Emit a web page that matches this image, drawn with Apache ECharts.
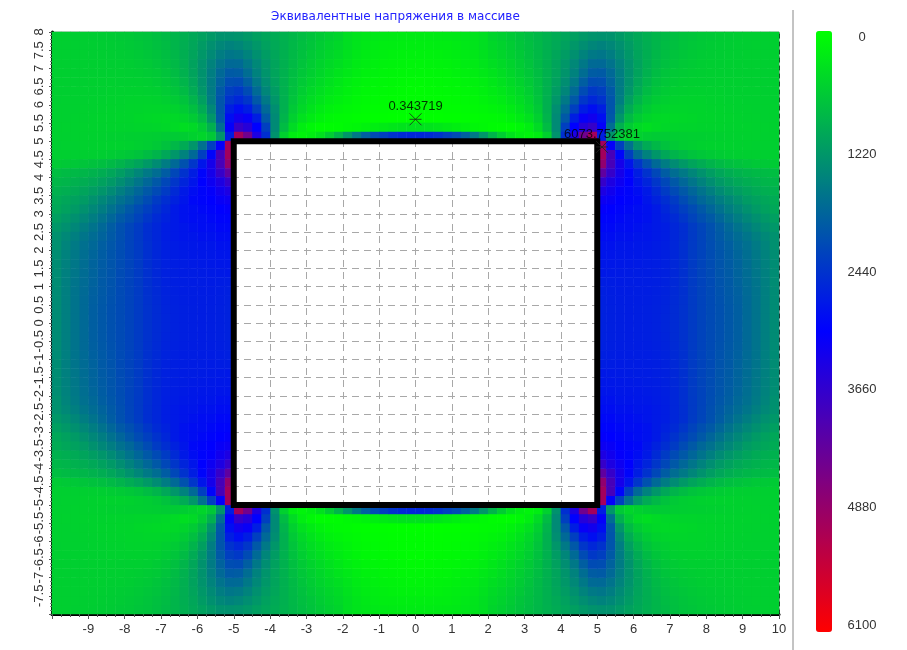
<!DOCTYPE html>
<html><head><meta charset="utf-8">
<style>html,body{margin:0;padding:0;background:#fff}#c{width:907px;height:650px}</style>
<script src="https://cdn.jsdelivr.net/npm/echarts@6/dist/echarts.min.js"></script>
</head><body><div id="c"></div>
<script>
const titleText = 'Эквивалентные напряжения в массиве';
// Rows for y = 7.875 ... 5.125, columns for x = 0.125 ... 9.875, step 0.25.
const bandAbove = [
[240,240,250,260,280,300,330,400,520,580,650,720,790,860,930,1000,1080,1150,1230,1290,1320,1300,1220,1130,1040,960,880,820,770,720,690,660,640,620,610,600,590,590,580,580],
[200,200,210,220,240,270,320,390,480,540,610,690,770,850,940,1030,1130,1240,1350,1450,1490,1440,1330,1200,1070,970,880,800,750,700,670,640,620,610,600,590,590,580,580,580],
[160,160,170,190,210,240,290,360,440,500,570,650,740,840,950,1060,1190,1330,1480,1600,1640,1550,1400,1240,1090,970,860,780,720,680,640,620,610,600,590,590,580,580,580,570],
[120,130,140,150,180,210,250,320,390,460,530,610,700,820,950,1090,1240,1420,1620,1780,1800,1680,1480,1290,1110,960,840,750,690,650,620,600,590,590,580,580,580,570,570,570],
[90,100,110,120,150,170,210,270,340,410,490,570,670,790,930,1090,1280,1500,1750,1950,1970,1800,1540,1300,1100,930,800,710,650,620,600,590,580,580,570,570,570,570,570,570],
[60,70,80,90,110,130,170,220,290,360,440,530,630,760,930,1120,1350,1620,1930,2150,2130,1880,1580,1300,1070,880,750,670,620,590,580,570,570,560,560,560,570,570,570,570],
[40,50,60,70,80,100,130,180,240,300,380,470,590,740,930,1180,1450,1780,2150,2380,2300,1980,1580,1250,1000,810,690,620,580,560,550,550,550,550,560,560,560,560,570,570],
[30,30,40,50,60,70,100,140,190,240,320,410,530,700,950,1250,1600,2000,2400,2580,2450,2050,1550,1150,900,720,620,570,540,530,530,530,540,540,550,550,560,560,560,570],
[20,20,25,30,40,50,70,100,130,170,240,330,470,650,950,1350,1800,2300,2720,2880,2700,2050,1420,1000,770,620,540,510,500,500,510,520,530,530,540,550,550,560,560,560],
[5,5,5,10,15,25,40,55,75,100,160,240,360,560,900,1400,2000,2700,3150,3250,2900,2000,1250,830,620,510,470,460,470,480,490,510,520,530,530,540,550,550,560,560],
[350,340,300,250,200,150,110,80,50,30,40,100,200,430,800,1400,2300,3050,3500,3700,3100,1750,950,620,460,390,440,480,500,510,520,530,530,530,540,540,540,550,550,560],
[2600,2550,2450,2300,2150,1900,1600,1250,900,600,350,200,130,220,550,1300,2500,3400,4400,5000,2700,1250,650,500,550,600,620,620,600,590,580,570,560,560,550,550,550,550,560,560]
];
// Rows for y = 4.875 ... 0.125, columns for x = 5.125 ... 9.875.
const bandRight = [
[5000,3100,2300,1700,1250,1000,850,730,650,600,570,550,540,540,540,550,550,560,560,570],
[5000,3900,3000,2300,1800,1500,1250,1050,900,800,720,670,630,610,590,580,570,570,570,580],
[4800,3900,3300,2800,2400,2080,1800,1570,1380,1220,1090,990,900,830,770,730,690,660,640,620],
[4200,3700,3300,3000,2700,2450,2200,1950,1750,1600,1450,1300,1170,1060,980,920,870,840,810,780],
[3700,3400,3200,3050,2800,2620,2400,2200,2000,1820,1650,1500,1350,1220,1120,1040,980,930,890,860],
[3400,3250,3100,3000,2900,2750,2550,2350,2170,2000,1830,1680,1530,1390,1270,1170,1090,1020,970,930],
[3200,3150,3050,3000,2950,2800,2650,2500,2350,2150,1980,1820,1700,1560,1430,1310,1200,1120,1060,1000],
[3100,3050,3000,2950,2900,2850,2750,2600,2450,2300,2150,2000,1840,1700,1560,1430,1310,1210,1120,1050],
[3000,3000,2950,2900,2900,2850,2750,2650,2550,2400,2250,2100,1980,1830,1690,1560,1440,1330,1230,1150],
[2950,2950,2900,2900,2850,2800,2750,2700,2600,2500,2350,2230,2090,1950,1810,1680,1550,1440,1330,1240],
[2900,2900,2850,2850,2800,2800,2750,2700,2600,2500,2360,2240,2110,1990,1870,1760,1650,1530,1420,1320],
[2850,2850,2800,2800,2780,2760,2730,2690,2590,2490,2360,2250,2130,2020,1920,1810,1710,1590,1470,1330],
[2800,2800,2780,2770,2760,2740,2720,2680,2590,2490,2350,2250,2140,2040,1950,1840,1730,1610,1500,1360],
[2780,2770,2760,2750,2740,2720,2700,2670,2580,2490,2350,2240,2140,2050,1960,1860,1750,1630,1510,1370],
[2760,2750,2740,2730,2720,2710,2690,2670,2580,2480,2350,2240,2150,2050,1970,1870,1760,1640,1520,1380],
[2700,2720,2730,2720,2710,2700,2690,2650,2570,2470,2350,2250,2160,2060,1980,1880,1770,1660,1530,1380],
[2680,2700,2710,2710,2700,2700,2680,2640,2560,2470,2350,2250,2160,2070,1990,1900,1780,1670,1530,1390],
[2670,2690,2700,2700,2700,2690,2670,2630,2550,2460,2350,2250,2170,2080,2000,1910,1790,1680,1530,1390],
[2660,2680,2690,2700,2690,2680,2660,2620,2540,2450,2350,2250,2170,2090,2010,1920,1800,1680,1530,1390],
[2660,2680,2690,2700,2690,2680,2650,2610,2530,2450,2350,2250,2170,2090,2010,1920,1800,1680,1530,1390]
];
const squareX = [-5, 5, 5, -5, -5];
const squareY = [5, 5, -5, -5, 5];
const markX = [0, 5.13];
const markY = [5.6, 4.84];
const markLabels = ['0.343719', '6073.752381'];
const scaleTicks = [0, 1220, 2440, 3660, 4880, 6100];

const xCats = Array.from({length: 80}, (_, i) => i);
const yCats = Array.from({length: 64}, (_, i) => i);
const cells = [];
function put(qx, qy, v) { // qx, qy: quarter-cell index counted from the centre
  cells.push([40 + qx, 32 + qy, v], [39 - qx, 32 + qy, v], [40 + qx, 31 - qy, v], [39 - qx, 31 - qy, v]);
}
bandAbove.forEach((row, r) => row.forEach((v, c) => put(c, 31 - r, v)));
bandRight.forEach((row, r) => row.forEach((v, c) => put(20 + c, 19 - r, v)));

const grey = '#a8a8a8', font = 'Liberation Sans';
const hidden = {show: false};
const chart = echarts.init(document.getElementById('c'), null, {renderer: 'canvas'});
chart.setOption({
  animation: false,
  backgroundColor: '#fff',
  title: {text: titleText, left: 271, top: 11, padding: 0, textStyle: {color: '#2222ff', fontSize: 12, fontWeight: 'normal', fontFamily: 'DejaVu Sans'}},
  tooltip: {show: false},
  grid: [
    {left: 52, right: 128, top: 32, bottom: 36},
    {left: 52, right: 128, top: 32, bottom: 36, show: true, borderColor: grey, borderWidth: 1, backgroundColor: 'transparent'},
    {left: 816, width: 16, top: 32, height: 601}
  ],
  xAxis: [
    {type: 'category', gridIndex: 0, data: xCats, show: false},
    {type: 'value', gridIndex: 1, min: -10, max: 10, interval: 1, position: 'bottom',
     axisLine: {show: true, onZero: false, lineStyle: {color: '#000', width: 3}},
     axisTick: {show: true, length: 5, lineStyle: {color: '#555'}},
     minorTick: {show: true, splitNumber: 4, length: 3, lineStyle: {color: '#555'}},
     splitLine: {show: true, lineStyle: {color: grey, type: [7, 5]}},
     axisLabel: {color: '#333', fontSize: 13, fontFamily: font, margin: 9, hideOverlap: false,
       formatter: v => v === -10 ? '' : String(v)}},
    {type: 'value', gridIndex: 1, min: -10, max: 10, position: 'top',
     axisLine: {show: true, onZero: false, lineStyle: {color: '#222', type: [4, 4]}},
     axisTick: hidden, axisLabel: hidden, splitLine: hidden},
    {type: 'value', gridIndex: 2, min: 0, max: 1, show: false}
  ],
  yAxis: [
    {type: 'category', gridIndex: 0, data: yCats, show: false},
    {type: 'value', gridIndex: 1, min: -8, max: 8, interval: 0.5, position: 'left',
     axisLine: {show: true, onZero: false, lineStyle: {color: '#000', width: 3}},
     axisTick: {show: true, length: 3, lineStyle: {color: '#555'}},
     minorTick: {show: true, splitNumber: 5, length: 2, lineStyle: {color: '#777'}},
     splitLine: {show: true, lineStyle: {color: grey, type: [7, 5]}},
     axisLabel: {color: '#333', fontSize: 13, fontFamily: font, rotate: 90, margin: 6, hideOverlap: false, showMinLabel: true,
       formatter: v => v === -8 ? '' : String(v)}},
    {type: 'value', gridIndex: 1, min: -8, max: 8, position: 'right',
     axisLine: {show: true, onZero: false, lineStyle: {color: '#222', type: [4, 4]}},
     axisTick: hidden, axisLabel: hidden, splitLine: hidden},
    {type: 'value', gridIndex: 2, inverse: true, min: -52, max: 6183, position: 'right',
     axisLine: hidden, axisTick: hidden, splitLine: hidden,
     axisLabel: {show: true, customValues: scaleTicks, color: '#333', fontSize: 13, fontFamily: font, margin: 30, align: 'center', formatter: v => String(v)}}
  ],
  visualMap: {
    type: 'continuous', seriesIndex: 0, min: 0, max: 6100, inverse: true, calculable: false,
    left: 816, top: 31, itemWidth: 16, itemHeight: 601, text: ['', ''], padding: 0, textGap: 0,
    inRange: {color: ['#00ff00', '#0000ff', '#ff0000']}
  },
  series: [
    {type: 'heatmap', xAxisIndex: 0, yAxisIndex: 0, data: cells, progressive: 0, z: 1,
     itemStyle: {borderWidth: 0}, emphasis: {disabled: true}, silent: true},
    {type: 'line', xAxisIndex: 1, yAxisIndex: 1, data: squareX.map((x, i) => [x, squareY[i]]), symbol: 'none', z: 5, silent: true,
     lineStyle: {color: '#000', width: 6, join: 'miter', cap: 'square'}},
    {type: 'scatter', xAxisIndex: 1, yAxisIndex: 1, z: 6, silent: true,
     data: markX.map((x, i) => ({value: [x, markY[i]], name: markLabels[i]})),
     symbol: 'path://M0 0L10 10M10 0L0 10M0 5L10 5', symbolSize: 12,
     itemStyle: {color: 'none', borderColor: '#222', borderWidth: 1},
     label: {show: true, position: 'top', distance: -2, formatter: p => p.name, color: '#000', fontSize: 13, fontFamily: font}}
  ],
  graphic: [{type: 'line', silent: true, shape: {x1: 793, y1: 10, x2: 793, y2: 650}, style: {stroke: '#888', lineWidth: 1}}]
});
</script></body></html>
